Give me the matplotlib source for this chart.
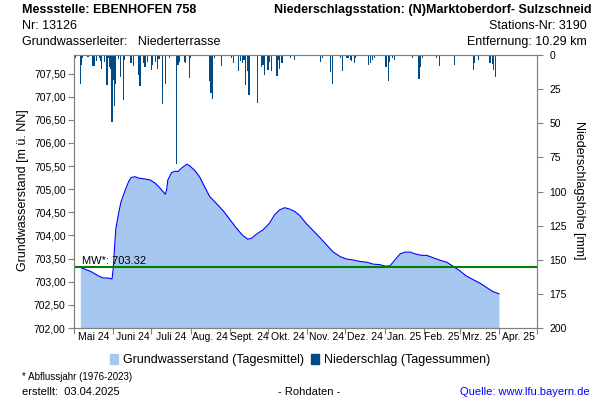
import matplotlib
matplotlib.use("Agg")
import matplotlib.pyplot as plt  # noqa: E402
import matplotlib.dates as mdates  # noqa: E402
from matplotlib.patches import Patch  # noqa: E402
from matplotlib.ticker import FuncFormatter, FixedLocator  # noqa: E402
import numpy as np  # noqa: E402

plt.rcParams["font.family"] = ["Liberation Sans", "DejaVu Sans"]

START = np.datetime64("2024-05-01")
END = np.datetime64("2025-05-01")

# groundwater level (day offset from START, m ü. NN)
gw_day = [5, 8, 14, 19, 23, 27, 30, 31, 32, 33, 35, 37, 40, 43, 45, 48, 51,
          56, 60, 64, 68, 72, 73, 74, 77, 80, 82, 85, 89, 91, 95, 99, 103,
          107, 112, 118, 123, 128, 133, 137, 140, 144, 149, 154, 158, 162,
          166, 170, 174, 178, 183, 188, 194, 199, 204, 210, 215, 220, 225,
          231, 236, 241, 245, 249, 253, 257, 261, 265, 269, 274, 278, 283,
          288, 294, 299, 304, 309, 315, 320, 325, 330, 335]
gw_val = [703.31, 703.28, 703.21, 703.13, 703.08, 703.08, 703.06, 703.30,
          703.75, 704.15, 704.45, 704.72, 704.95, 705.16, 705.25, 705.27,
          705.24, 705.22, 705.20, 705.13, 705.02, 704.89, 704.98, 705.20,
          705.36, 705.39, 705.38, 705.46, 705.54, 705.51, 705.41, 705.27,
          705.05, 704.84, 704.70, 704.52, 704.34, 704.16, 704.00, 703.92,
          703.94, 704.03, 704.12, 704.26, 704.44, 704.55, 704.60, 704.57,
          704.52, 704.43, 704.26, 704.12, 703.95, 703.80, 703.65, 703.54,
          703.49, 703.47, 703.44, 703.42, 703.38, 703.37, 703.34, 703.34,
          703.47, 703.60, 703.64, 703.64, 703.60, 703.57, 703.57, 703.52,
          703.47, 703.42, 703.33, 703.24, 703.13, 703.04, 702.97, 702.88,
          702.79, 702.74]

# daily precipitation (day offset from START, mm)
pr_day = [1, 5, 6, 7, 11, 15, 16, 18, 20, 21, 22, 24, 26, 27, 28, 29, 30,
          31, 32, 33, 35, 37, 39, 40, 42, 45, 47, 51, 52, 55, 56, 58, 61, 62,
          64, 66, 67, 70, 72, 75, 81, 82, 83, 87, 88, 91, 92, 97, 107, 108,
          109, 111, 116, 122, 124, 126, 130, 131, 133, 134, 135, 137, 138,
          139, 145, 148, 149, 150, 153, 154, 156, 160, 161, 162, 164, 171,
          174, 175, 194, 196, 200, 202, 204, 210, 212, 215, 216, 218, 219,
          221, 222, 227, 232, 234, 235, 237, 246, 248, 249, 251, 253, 259,
          267, 272, 273, 275, 286, 288, 300, 302, 315, 316, 319, 326, 328,
          330, 331, 332, 334]
pr_mm = [2, 21, 7, 2.5, 1.5, 8, 8, 4.5, 2.5, 4.5, 10, 5, 22, 2.5, 9, 10, 49,
         18, 37, 21, 3, 16, 33, 4, 1, 6, 8, 15, 23, 6, 8.5, 5, 11, 7,
         5, 10, 3, 36, 21.5, 2, 80, 7, 5, 5, 6, 17, 2.5, 1, 19, 28,
         32, 2.5, 8, 1, 2, 6, 11.5, 4.5, 6, 3.5, 22, 12, 29,
         1, 35, 9, 7, 14.5, 11, 5, 11.5, 15.5, 3.5, 10, 5.5, 2.5,
         3.5, 1, 5, 2, 1, 12.5, 21, 2, 11.5, 2, 2.5, 3.5, 4.5,
         6, 2.5, 1, 7, 6, 3.5, 2, 9, 19, 5, 2, 3.5, 0.5,
         2, 17.5, 8.5, 2.5, 2.5, 8, 7, 1, 11, 6, 4, 0.5, 6,
         6.5, 11, 16, 1]

MW = 703.32
month_labels = ["Mai 24", "Juni 24", "Juli 24", "Aug. 24", "Sept. 24",
                "Okt. 24", "Nov. 24", "Dez. 24", "Jan. 25", "Feb. 25",
                "Mrz. 25", "Apr. 25"]

GRAY = "#808080"
FILL = "#a6c8f0"
LINE = "#0000ff"
BAR = "#004a86"


def main():
    fig = plt.figure(figsize=(6, 4), dpi=100)
    ax = fig.add_axes([0.1233, 0.18, 0.7717, 0.6825])

    t0 = mdates.date2num(START.astype("datetime64[D]").item())
    gx = t0 + np.array(gw_day, dtype=float)
    px = t0 + np.array(pr_day, dtype=float)

    ax.fill_between(gx, 702.0, gw_val, color=FILL, lw=0, zorder=1)
    ax.plot(gx, gw_val, color=LINE, lw=0.8, zorder=3)
    ax.axhline(MW, color="#008000", lw=1.5, zorder=4)
    ax.text(t0 + 6.5, MW + 0.02, f"MW*: {MW:.2f}", fontsize=8,
            va="bottom", ha="left", zorder=5)

    ax.set_ylim(702.0, 707.9)
    ax.set_yticks(np.arange(702.0, 707.51, 0.5))
    ax.yaxis.set_major_formatter(
        FuncFormatter(lambda v, _: f"{v:.2f}".replace(".", ",")))

    t_end = mdates.date2num(END.astype("datetime64[D]").item())
    ax.set_xlim(t0, t_end)
    month_starts = np.arange(START.astype("datetime64[M]"),
                             END.astype("datetime64[M]") + 1)
    starts = [mdates.date2num(m.astype("datetime64[D]").item())
              for m in month_starts]
    ax.xaxis.set_major_locator(FixedLocator(starts))
    ax.xaxis.set_major_formatter(FuncFormatter(lambda v, _: ""))
    mids = [(a + b) / 2 for a, b in zip(starts[:-1], starts[1:])]
    ax.xaxis.set_minor_locator(FixedLocator(mids))
    ax.xaxis.set_minor_formatter(
        FuncFormatter(lambda v, i: month_labels[i] if i < len(month_labels) else ""))
    ax.tick_params(axis="x", which="major", length=4, color=GRAY)
    ax.tick_params(axis="x", which="minor", length=0, labelsize=7.5, pad=3)
    ax.tick_params(axis="y", length=4, color=GRAY, labelsize=7.5, pad=2)

    for s in ax.spines.values():
        s.set_color(GRAY)

    ax2 = ax.twinx()
    ax2.bar(px, pr_mm, width=0.9, color=BAR, lw=0, align="center")
    ax2.set_ylim(200, 0)
    ax2.set_yticks(np.arange(0, 201, 25))
    ax2.tick_params(axis="y", length=4, color=GRAY, labelsize=7.5, pad=5)
    for s in ax2.spines.values():
        s.set_color(GRAY)
    ax2.set_xlim(t0, t_end)

    fig.text(0.038, 0.525, "Grundwasserstand [m ü. NN]", rotation=90,
             ha="center", va="center", fontsize=9)
    fig.text(0.965, 0.525, "Niederschlagshöhe [mm]", rotation=-90,
             ha="center", va="center", fontsize=9)

    # header
    fig.text(0.037, 0.975, "Messstelle: EBENHOFEN 758", fontsize=9,
             fontweight="bold", va="center")
    fig.text(0.037, 0.935, "Nr: 13126", fontsize=9, va="center")
    fig.text(0.037, 0.895, "Grundwasserleiter:   Niederterrasse",
             fontsize=9, va="center")
    fig.text(0.985, 0.975, "Niederschlagsstation: (N)Marktoberdorf- Sulzschneid",
             fontsize=9, fontweight="bold", ha="right", va="center")
    fig.text(0.978, 0.935, "Stations-Nr: 3190", fontsize=9, ha="right",
             va="center")
    fig.text(0.978, 0.895, "Entfernung: 10.29 km", fontsize=9, ha="right",
             va="center")

    handles = [Patch(color=FILL), Patch(color=BAR)]
    fig.legend(handles, ["Grundwasserstand (Tagesmittel)",
                         "Niederschlag (Tagessummen)"],
               loc="center", bbox_to_anchor=(0.5, 0.1), ncol=2, frameon=False,
               fontsize=9, handlelength=0.6, handleheight=0.8,
               handletextpad=0.4, columnspacing=0.6)

    # footer
    fig.text(0.037, 0.057, "* Abflussjahr (1976-2023)", fontsize=7,
             va="center")
    fig.text(0.037, 0.02, "erstellt:  03.04.2025", fontsize=8, va="center")
    fig.text(0.515, 0.02, "- Rohdaten -", fontsize=8, ha="center",
             va="center")
    fig.text(0.983, 0.02, "Quelle: www.lfu.bayern.de", fontsize=8,
             ha="right", va="center", color="#0000ff")

    fig.savefig("out.png", dpi=100)


if __name__ == "__main__":
    main()
